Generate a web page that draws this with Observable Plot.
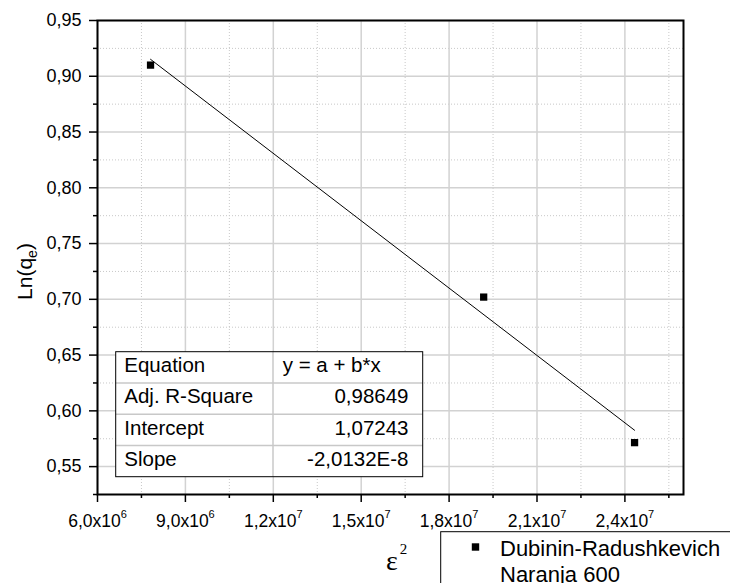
<!DOCTYPE html>
<html><head><meta charset="utf-8">
<script src="https://cdn.jsdelivr.net/npm/d3@7"></script>
<script src="https://cdn.jsdelivr.net/npm/@observablehq/plot@0.6"></script>
<style>body{margin:0;background:#fff} svg{overflow:visible}</style>
</head><body><div id="chart"></div>
<script>
// ---- data ----
const epsilon2 = [7.81e6, 1.918e7, 2.433e7];
const lnQe = [0.910, 0.702, 0.5715];
const fitIntercept = 1.07243;
const fitSlope = -2.0132e-8;
const tableLabels = ["Equation", "Adj. R-Square", "Intercept", "Slope"];
const tableValues = ["y = a + b*x", "0,98649", "1,07243", "-2,0132E-8"];
const xTicks = [6e6, 9e6, 1.2e7, 1.5e7, 1.8e7, 2.1e7, 2.4e7];
const xTickMantissa = ["6,0", "9,0", "1,2", "1,5", "1,8", "2,1", "2,4"];
const xTickExponent = ["6", "6", "7", "7", "7", "7", "7"];
const xMinor = [7.5e6, 1.05e7, 1.35e7, 1.65e7, 1.95e7, 2.25e7, 2.55e7];
const yTicks = [0.55, 0.60, 0.65, 0.70, 0.75, 0.80, 0.85, 0.90, 0.95];
const yTickLabels = ["0,55", "0,60", "0,65", "0,70", "0,75", "0,80", "0,85", "0,90", "0,95"];
const yMinor = [0.525, 0.575, 0.625, 0.675, 0.725, 0.775, 0.825, 0.875, 0.925];
const legendLines = ["Dubinin-Radushkevich", "Naranja 600"];

const FONT = "'Liberation Sans', Arial, sans-serif";
const points = epsilon2.map((x, i) => ({x, y: lnQe[i]}));
const fit = d3.extent(epsilon2).map(x => ({x, y: fitIntercept + fitSlope * x}));

const chart = Plot.plot({
  width: 730, height: 583,
  marginLeft: 97, marginRight: 47, marginTop: 20, marginBottom: 89,
  style: {fontFamily: FONT, background: "white", overflow: "visible", color: "black"},
  x: {type: "linear", domain: [6e6, 2.6e7]},
  y: {domain: [0.525, 0.95]},
  marks: [
    Plot.gridX(xMinor, {stroke: "#c8c8c8", strokeOpacity: 1, strokeWidth: 1, strokeDasharray: "1,2"}),
    Plot.gridY(yMinor, {stroke: "#c8c8c8", strokeOpacity: 1, strokeWidth: 1, strokeDasharray: "1,2"}),
    Plot.gridX(xTicks, {stroke: "#d2d2d2", strokeOpacity: 1, strokeWidth: 1.5}),
    Plot.gridY(yTicks, {stroke: "#d2d2d2", strokeOpacity: 1, strokeWidth: 1.5}),
    Plot.line(fit, {x: "x", y: "y", stroke: "black", strokeWidth: 1}),
    Plot.dot(points, {x: "x", y: "y", symbol: "square", r: 4.1, fill: "black", stroke: "none"}),
    Plot.axisX(xMinor, {tickSize: 4, strokeWidth: 1.5, tickFormat: () => "", label: null}),
    Plot.axisX(xTicks, {tickSize: 8, strokeWidth: 1.5, tickPadding: 12.5, fontSize: 17.5, label: null,
      tickFormat: d => { const i = xTicks.indexOf(d); return xTickMantissa[i] + "x10|" + xTickExponent[i]; }}),
    Plot.axisY(yMinor, {tickSize: 4, strokeWidth: 1.5, tickFormat: () => "", label: null}),
    Plot.axisY(yTicks, {tickSize: 8, strokeWidth: 1.5, tickPadding: 8, fontSize: 18, label: null,
      tickFormat: d => yTickLabels[yTicks.indexOf(d)]}),
    Plot.frame({stroke: "black", strokeWidth: 2})
  ]
});
document.getElementById("chart").appendChild(chart);
const svg = d3.select(chart);

// superscript exponents in x tick labels
svg.selectAll("text").each(function() {
  const t = this.textContent;
  if (t.includes("|")) {
    const [base, exp] = t.split("|");
    const sel = d3.select(this);
    sel.text(null);
    sel.append("tspan").text(base);
    sel.append("tspan").attr("font-size", 11).attr("dy", -9.5).text(exp);
  }
});

// y axis title
const yt = svg.append("text").attr("transform", "translate(31.7,271.5) rotate(-90)")
  .attr("text-anchor", "middle").attr("font-family", FONT).attr("font-size", 21).attr("fill", "black");
yt.append("tspan").text("Ln(q");
yt.append("tspan").attr("font-size", 14).attr("dy", 5).text("e");
yt.append("tspan").attr("dy", -5).text(")");

// x axis title
const xt = svg.append("text").attr("x", 386).attr("y", 570).attr("text-anchor", "start")
  .attr("font-family", "'Liberation Serif', 'Times New Roman', serif").attr("font-size", 28).attr("fill", "black");
xt.append("tspan").text("ε");
xt.append("tspan").attr("font-size", 15).attr("dx", 2).attr("dy", -16).text("2");

// fit table
const tx0 = 115.7, tx1 = 422.7, tmid = 273, ty0 = 351.7, rowH = 31.25;
const tg = svg.append("g").attr("font-family", FONT).attr("font-size", 20.5).attr("fill", "black")
  .attr("text-anchor", "start");
tg.append("rect").attr("x", tx0).attr("y", ty0).attr("width", tx1 - tx0).attr("height", rowH * 4).attr("fill", "white");
for (let i = 1; i < 4; i++) {
  tg.append("line").attr("x1", tx0).attr("x2", tx1).attr("y1", ty0 + i * rowH).attr("y2", ty0 + i * rowH)
    .attr("stroke", "#c8c8c8").attr("stroke-width", 1.5);
}
tg.append("line").attr("x1", tmid).attr("x2", tmid).attr("y1", ty0).attr("y2", ty0 + 4 * rowH)
  .attr("stroke", "#c8c8c8").attr("stroke-width", 1.5);
tg.append("rect").attr("x", tx0).attr("y", ty0).attr("width", tx1 - tx0).attr("height", rowH * 4)
  .attr("fill", "none").attr("stroke", "black").attr("stroke-width", 1);
tableLabels.forEach((lab, i) => {
  tg.append("text").attr("x", 124.3).attr("y", ty0 + i * rowH + 20.5).attr("text-anchor", "start").text(lab);
  const v = tg.append("text").attr("y", ty0 + i * rowH + 20.5).text(tableValues[i]);
  if (i === 0) v.attr("x", 282.7).attr("text-anchor", "start");
  else v.attr("x", 408.5).attr("text-anchor", "end");
});

// legend
const lg = svg.append("g").attr("font-family", FONT).attr("font-size", 22).attr("fill", "black")
  .attr("text-anchor", "start");
lg.append("rect").attr("x", 440.7).attr("y", 531.7).attr("width", 320).attr("height", 80)
  .attr("fill", "white").attr("stroke", "black").attr("stroke-width", 1);
lg.append("rect").attr("x", 471.8).attr("y", 543.3).attr("width", 7.4).attr("height", 7.4).attr("fill", "black");
lg.append("text").attr("x", 500).attr("y", 556).attr("text-anchor", "start").text(legendLines[0]);
lg.append("text").attr("x", 500).attr("y", 581.7).attr("text-anchor", "start").text(legendLines[1]);
</script>
</body></html>
